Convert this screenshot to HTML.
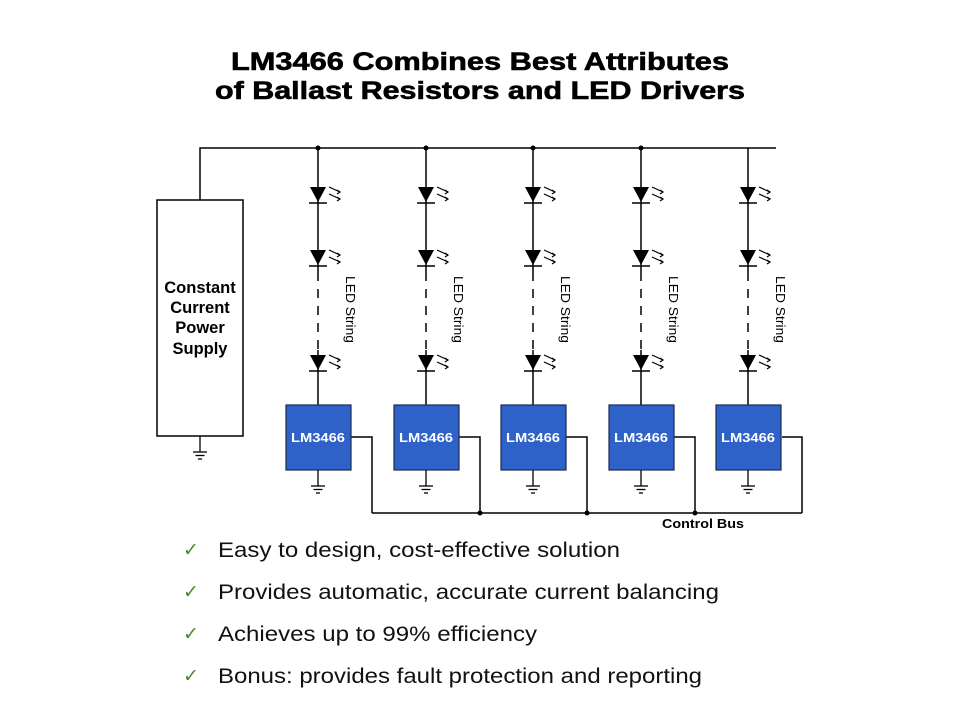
<!DOCTYPE html>
<html><head><meta charset="utf-8"><style>
body{margin:0;background:#fff;width:960px;height:720px;overflow:hidden;font-family:"Liberation Sans",Arial,sans-serif}
svg{position:absolute;left:0;top:0}
</style></head><body>
<svg width="960" height="720" viewBox="0 0 960 720" font-family="Liberation Sans, Arial, sans-serif">
<defs>
<g id="led">
<polygon points="-8,0 8,0 0,15" fill="#000"/>
<line x1="-9" y1="16" x2="9" y2="16" stroke="#000" stroke-width="1.5"/>
<g stroke="#000" stroke-width="1.2" fill="none">
<line x1="11" y1="0" x2="22" y2="5"/><polyline points="19,3 22,5 19,7"/>
<line x1="11" y1="7" x2="22" y2="12"/><polyline points="19,10 22,12 19,14"/>
</g>
</g>
<g id="gnd" stroke="#000" stroke-width="1.3">
<line x1="0" y1="0" x2="0" y2="16"/>
<line x1="-7" y1="16" x2="7" y2="16"/>
<line x1="-4.5" y1="19.5" x2="4.5" y2="19.5"/>
<line x1="-2" y1="23" x2="2" y2="23"/>
</g>
<g id="col">
<line x1="0" y1="148" x2="0" y2="272" stroke="#000" stroke-width="1.5"/>
<line x1="0" y1="272" x2="0" y2="350" stroke="#000" stroke-width="1.5" stroke-dasharray="9,8"/>
<line x1="0" y1="350" x2="0" y2="405" stroke="#000" stroke-width="1.5"/>
<use href="#led" y="187"/>
<use href="#led" y="250"/>
<use href="#led" y="355"/>
<rect x="-32" y="405" width="65" height="65" fill="#2f62c8" stroke="#1a2a50" stroke-width="1.2"/>
<use href="#gnd" y="470"/>
</g>
</defs>
<text x="231" y="70" textLength="498" lengthAdjust="spacingAndGlyphs" font-size="25" font-weight="bold" fill="#000" stroke="#000" stroke-width="0.6">LM3466 Combines Best Attributes</text>
<text x="215" y="99" textLength="530" lengthAdjust="spacingAndGlyphs" font-size="25" font-weight="bold" fill="#000" stroke="#000" stroke-width="0.6">of Ballast Resistors and LED Drivers</text>
<g stroke="#000" stroke-width="1.5" fill="none">
<polyline points="200,200 200,148 776,148"/>
<rect x="157" y="200" width="86" height="236" fill="#fff"/>
<line x1="372" y1="513" x2="802" y2="513"/>
<polyline points="351,437 372,437 372,513"/>
<polyline points="459,437 480,437 480,513"/>
<polyline points="566,437 587,437 587,513"/>
<polyline points="674,437 695,437 695,513"/>
<polyline points="782,437 802,437 802,513"/>
</g>
<use href="#gnd" x="200" y="436"/>
<g fill="#000"><circle cx="318" cy="148" r="2.5"/><circle cx="426" cy="148" r="2.5"/><circle cx="533" cy="148" r="2.5"/><circle cx="641" cy="148" r="2.5"/>
<circle cx="480" cy="513" r="2.5"/><circle cx="587" cy="513" r="2.5"/><circle cx="695" cy="513" r="2.5"/></g>
<use href="#col" x="318"/><use href="#col" x="426"/><use href="#col" x="533"/><use href="#col" x="641"/><use href="#col" x="748"/>
<g font-size="13" font-weight="bold" fill="#fff">
<text x="291" y="442" textLength="54" lengthAdjust="spacingAndGlyphs">LM3466</text>
<text x="399" y="442" textLength="54" lengthAdjust="spacingAndGlyphs">LM3466</text>
<text x="506" y="442" textLength="54" lengthAdjust="spacingAndGlyphs">LM3466</text>
<text x="614" y="442" textLength="54" lengthAdjust="spacingAndGlyphs">LM3466</text>
<text x="721" y="442" textLength="54" lengthAdjust="spacingAndGlyphs">LM3466</text>
</g>
<g font-size="13" fill="#000">
<text transform="translate(346,276) rotate(90)" textLength="67" lengthAdjust="spacingAndGlyphs">LED String</text>
<text transform="translate(454,276) rotate(90)" textLength="67" lengthAdjust="spacingAndGlyphs">LED String</text>
<text transform="translate(561,276) rotate(90)" textLength="67" lengthAdjust="spacingAndGlyphs">LED String</text>
<text transform="translate(669,276) rotate(90)" textLength="67" lengthAdjust="spacingAndGlyphs">LED String</text>
<text transform="translate(776,276) rotate(90)" textLength="67" lengthAdjust="spacingAndGlyphs">LED String</text>
</g>
<g font-size="16.5" font-weight="bold" fill="#000" text-anchor="middle">
<text x="200" y="293">Constant</text><text x="200" y="313">Current</text><text x="200" y="333">Power</text><text x="200" y="354">Supply</text>
</g>
<text x="662" y="528" font-size="13" font-weight="bold" fill="#000" textLength="82" lengthAdjust="spacingAndGlyphs">Control Bus</text>
<g fill="#111" font-size="21">
<text x="218" y="557" textLength="402" lengthAdjust="spacingAndGlyphs">Easy to design, cost-effective solution</text>
<text x="218" y="599" textLength="501" lengthAdjust="spacingAndGlyphs">Provides automatic, accurate current balancing</text>
<text x="218" y="641" textLength="319" lengthAdjust="spacingAndGlyphs">Achieves up to 99% efficiency</text>
<text x="218" y="683" textLength="484" lengthAdjust="spacingAndGlyphs">Bonus: provides fault protection and reporting</text>
</g>
<g fill="#4a8a2a" font-size="19" font-family="DejaVu Sans, sans-serif">
<text x="183" y="556">✓</text><text x="183" y="598">✓</text><text x="183" y="640">✓</text><text x="183" y="682">✓</text>
</g>
</svg>
</body></html>
